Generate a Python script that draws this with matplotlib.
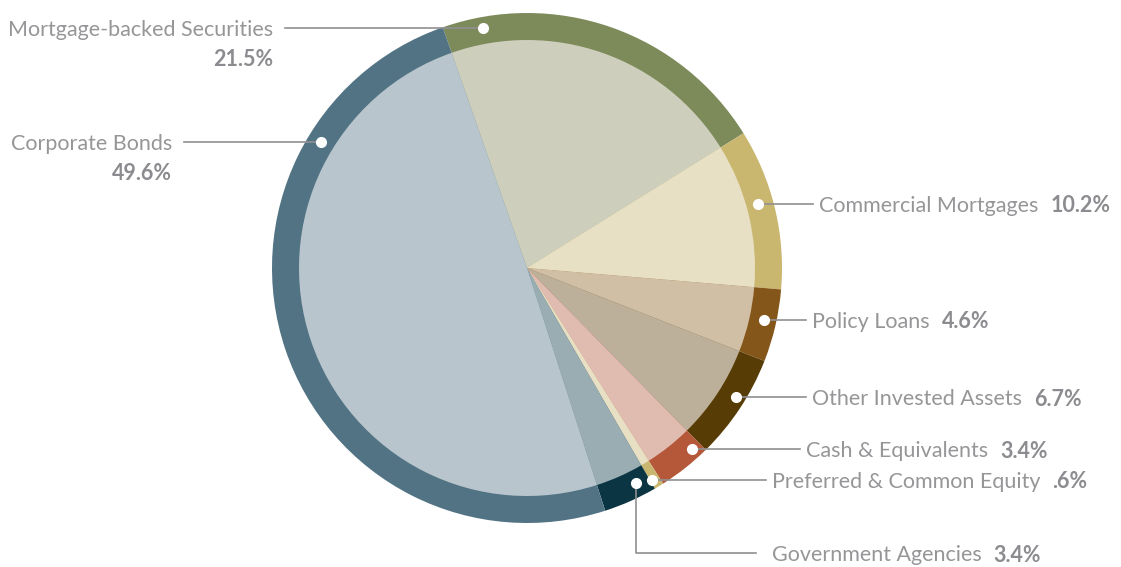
import matplotlib.pyplot as plt
import numpy as np

# asset allocation, clockwise from the top
labels = ['Mortgage-backed Securities', 'Commercial Mortgages', 'Policy Loans',
          'Other Invested Assets', 'Cash & Equivalents', 'Preferred & Common Equity',
          'Government Agencies', 'Corporate Bonds']
values = [21.5, 10.2, 4.6, 6.7, 3.4, 0.6, 3.4, 49.6]
value_text = ['21.5%', '10.2%', '4.6%', '6.7%', '3.4%', '.6%', '3.4%', '49.6%']

ring_colors = ['#7d8a5a', '#c9b66f', '#85561a', '#583c06', '#b5583a', '#c9b66f', '#0b3543', '#517384']
fill_colors = ['#cdcfbc', '#e8e0c4', '#d0bfa4', '#bcb09a', '#e0bbb0', '#e8e0c4', '#9aadb2', '#b8c5cd']

W, H = 1121, 567
fig = plt.figure(figsize=(W / 100, H / 100), dpi=100)
ax = fig.add_axes([0, 0, 1, 1])

cx, cy = 527, H - 268
R, r_in = 255, 228
start = 109.3

outer, _ = ax.pie(values, colors=ring_colors, startangle=start, counterclock=False,
                  radius=R, center=(cx, cy), wedgeprops=dict(linewidth=0))
inner, _ = ax.pie(values, colors=fill_colors, startangle=start, counterclock=False,
                  radius=r_in, center=(cx, cy), wedgeprops=dict(linewidth=0))
ax.set_xlim(0, W)
ax.set_ylim(0, H)
ax.set_aspect('auto')
ax.axis('off')

txt_col = '#969699'
num_col = '#8c8c90'
line_col = '#909094'
fam = ['Lato', 'DejaVu Sans']
fs = 15.5

# where the dot sits inside each ring segment (fraction of the wedge)
dot_frac = [0.114, 0.41, 0.35, 0.36, 0.12, 0.5, 0.26, 0.78]
# label anchors in pixels from the top: (x, y, side)
anchors = [(273, 30, 'L'), (819, 206, 'R'), (812, 322, 'R'), (812, 399, 'R'),
           (806, 451, 'R'), (772, 482, 'R'), (772, 555, 'R'), (172, 144, 'L')]

fig.canvas.draw()
rend = fig.canvas.get_renderer()
rm = (R + r_in) / 2
for i, w in enumerate(outer):
    t1, t2 = w.theta1, w.theta2
    # counterclock=False: the wedge starts at theta2 and runs down to theta1
    ang = np.deg2rad(t2 - dot_frac[i] * (t2 - t1))
    dx, dy = cx + rm * np.cos(ang), cy + rm * np.sin(ang)
    tx, ty, side = anchors[i]
    ty = H - ty
    ly = ty + 2  # leader line sits a touch above the text centre
    if side == 'L':
        ax.plot([tx + 12, dx], [ly, ly], color=line_col, lw=1.2, zorder=3)
        ax.text(tx, ty, labels[i], ha='right', va='center', fontsize=fs,
                color=txt_col, family=fam)
        ax.text(tx, ty - 29, value_text[i], ha='right', va='center', fontsize=fs,
                fontweight='bold', color=num_col, family=fam)
        ax.plot(dx, ly, 'o', color='white', ms=7, zorder=4)
    else:
        if labels[i] == 'Government Agencies':
            ax.plot([dx, dx, tx - 16], [dy, ly, ly], color=line_col, lw=1.2, zorder=3)
            ax.plot(dx, dy, 'o', color='white', ms=7, zorder=4)
        else:
            ax.plot([dx, tx - 6], [ly, ly], color=line_col, lw=1.2, zorder=3)
            ax.plot(dx, ly, 'o', color='white', ms=7, zorder=4)
        t = ax.text(tx, ty, labels[i], ha='left', va='center', fontsize=fs,
                    color=txt_col, family=fam)
        bb = t.get_window_extent(renderer=rend)
        ax.text(bb.x1 + 12, ty, value_text[i], ha='left', va='center', fontsize=fs,
                fontweight='bold', color=num_col, family=fam)

fig.savefig('out.png', dpi=100, facecolor='white')
